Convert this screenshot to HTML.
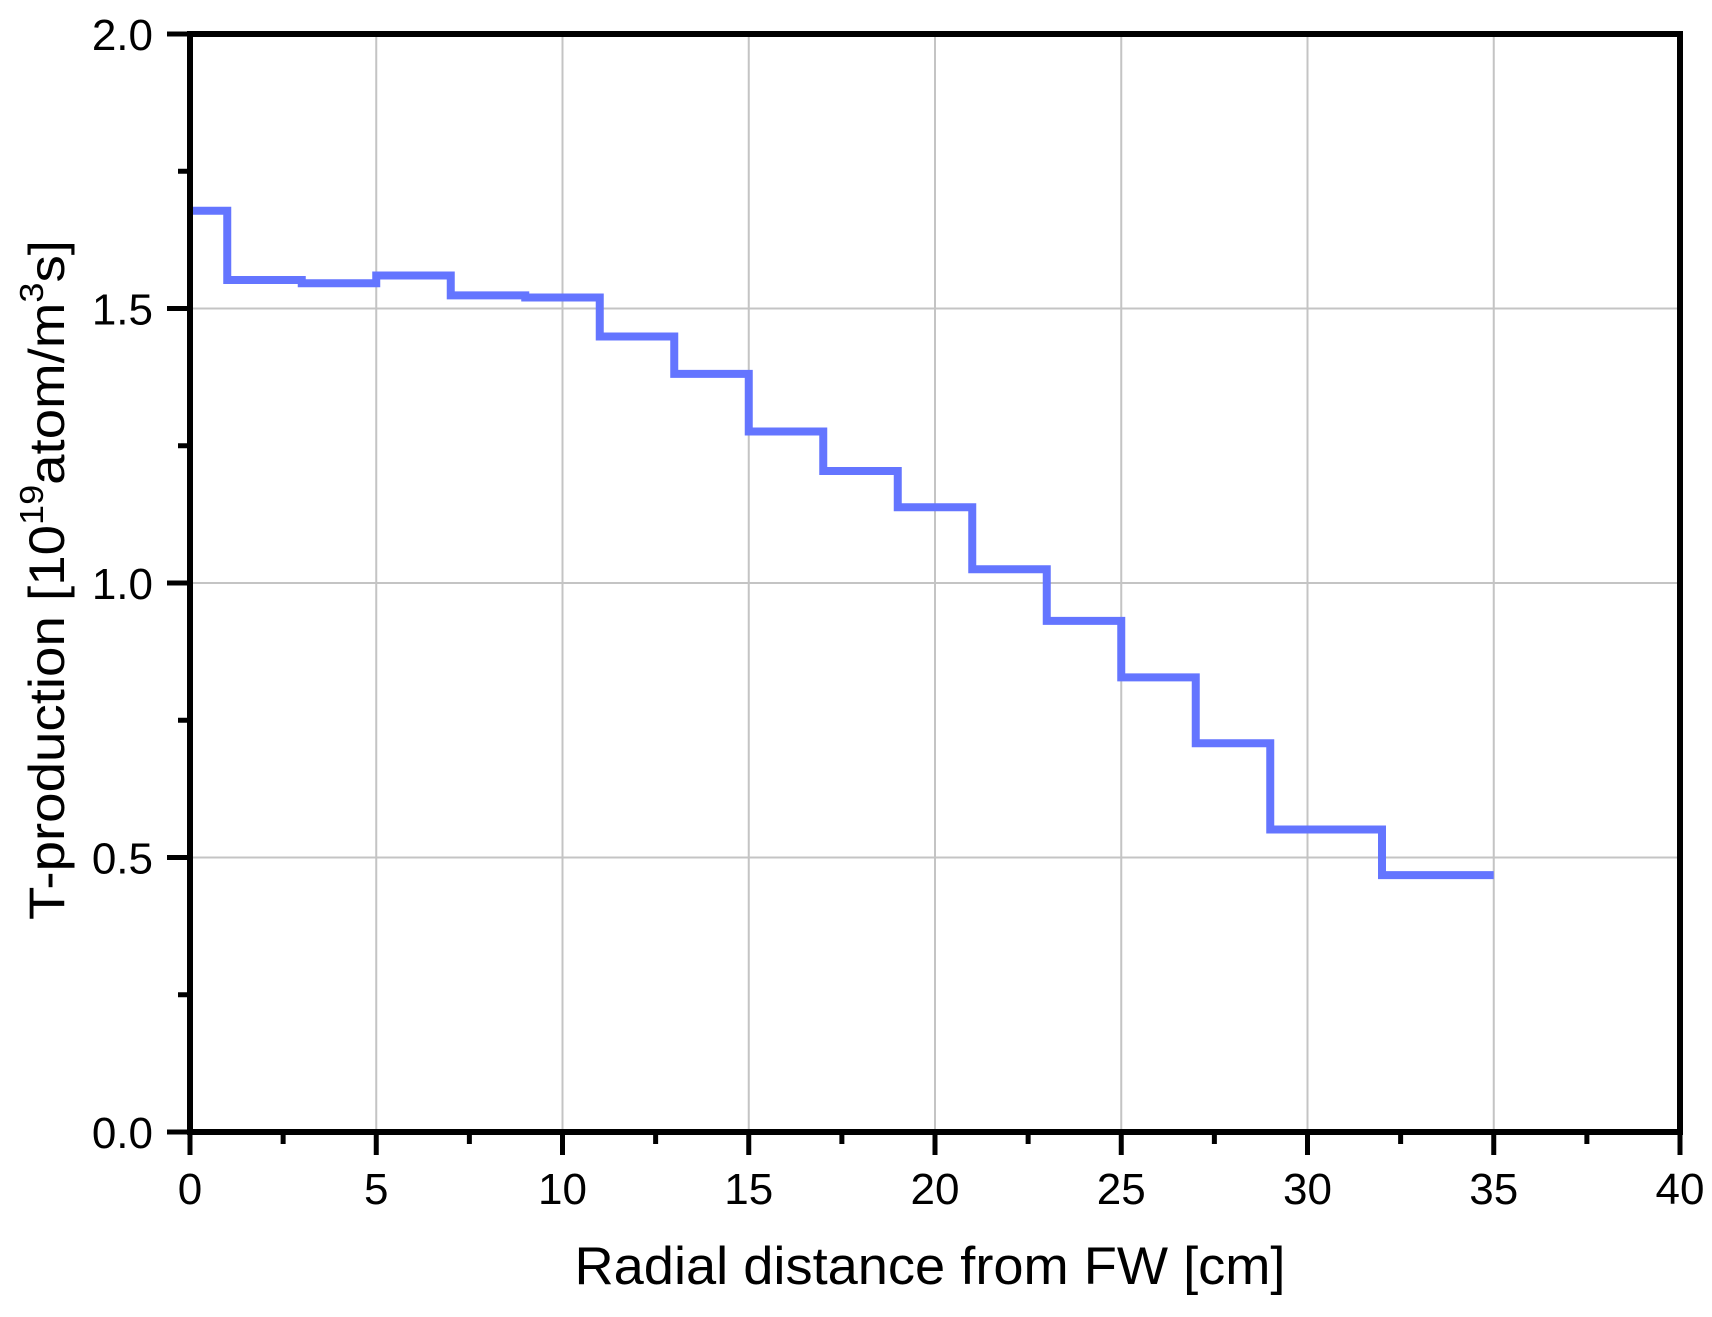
<!DOCTYPE html>
<html><head><meta charset="utf-8"><style>
html,body{margin:0;padding:0;background:#fff;}
svg{display:block;font-family:"Liberation Sans",Arial,sans-serif;}
</style></head><body>
<svg id="chart" width="1712" height="1317" viewBox="0 0 1712 1317" xmlns="http://www.w3.org/2000/svg">
<g id="grid"></g>
<g id="series"></g>
<g id="axes"></g>
<text x="930" y="1284" font-size="53" text-anchor="middle" textLength="711" lengthAdjust="spacingAndGlyphs">Radial distance from FW [cm]</text>
<text transform="translate(64,580) rotate(-90)" font-size="50" text-anchor="middle" textLength="680" lengthAdjust="spacingAndGlyphs">T-production [10<tspan font-size="33" dy="-21">19</tspan><tspan dy="21">atom/m</tspan><tspan font-size="33" dy="-21">3</tspan><tspan dy="21">s]</tspan></text>
</svg>
<script>
const binEdges = [0,1,3,5,7,9,11,13,15,17,19,21,23,25,27,29,32,35];
const tValues = [1.678,1.552,1.546,1.560,1.524,1.520,1.449,1.381,1.276,1.204,1.138,1.025,0.931,0.828,0.708,0.551,0.468];
const xTicks = [0,5,10,15,20,25,30,35,40];
const yTicks = [0.0,0.5,1.0,1.5,2.0];
const xTickLabels = ["0","5","10","15","20","25","30","35","40"];
const yTickLabels = ["0.0","0.5","1.0","1.5","2.0"];

const L=190,R=1680,T=34,B=1132;
const xMin=0,xMax=40,yMin=0,yMax=2;
const sx=v=>L+(v-xMin)/(xMax-xMin)*(R-L);
const sy=v=>B-(v-yMin)/(yMax-yMin)*(B-T);
const NS="http://www.w3.org/2000/svg";
function mk(tag,attrs,parent){const e=document.createElementNS(NS,tag);for(const k in attrs)e.setAttribute(k,attrs[k]);parent.appendChild(e);return e;}
const grid=document.getElementById('grid'),axes=document.getElementById('axes'),series=document.getElementById('series');

xTicks.forEach((v,i)=>{
  if(v>xMin&&v<xMax){const g=mk('line',{x1:sx(v),x2:sx(v),y1:T,y2:B,stroke:'#c4c4c4','stroke-width':2},grid);
  
  }
  const t=mk('line',{x1:sx(v),x2:sx(v),y1:B,y2:B+23,stroke:'#000','stroke-width':5},axes);
  
  
  const lb=mk('text',{x:sx(v),y:1204,'font-size':44,'text-anchor':'middle'},axes);
  lb.textContent=xTickLabels[i];
  
  
  if(i<xTicks.length-1){const m=mk('line',{x1:sx(v+2.5),x2:sx(v+2.5),y1:B,y2:B+12,stroke:'#000','stroke-width':5},axes);
  
  }
});
yTicks.forEach((v,i)=>{
  if(v>yMin&&v<yMax){const g=mk('line',{x1:L,x2:R,y1:sy(v),y2:sy(v),stroke:'#c4c4c4','stroke-width':2},grid);
  
  }
  const t=mk('line',{x1:L-23,x2:L,y1:sy(v),y2:sy(v),stroke:'#000','stroke-width':5},axes);
  
  
  const lb=mk('text',{x:153,y:sy(v)+16,'font-size':44,'text-anchor':'end'},axes);
  lb.textContent=yTickLabels[i];
  
  
  if(i<yTicks.length-1){const m=mk('line',{x1:L-12,x2:L,y1:sy(v+0.25),y2:sy(v+0.25),stroke:'#000','stroke-width':5},axes);
  
  }
});
const frame=mk('rect',{x:L,y:T,width:R-L,height:B-T,fill:'none',stroke:'#000','stroke-width':6},axes);



let d='';
tValues.forEach((v,i)=>{
  d+=(i===0?'M':'L')+sx(binEdges[i])+','+sy(v)+' L'+sx(binEdges[i+1])+','+sy(v)+' ';
});
const p=mk('path',{d:d,fill:'none',stroke:'#6475ff','stroke-width':8,'stroke-linejoin':'miter'},series);


</script>
</body></html>
